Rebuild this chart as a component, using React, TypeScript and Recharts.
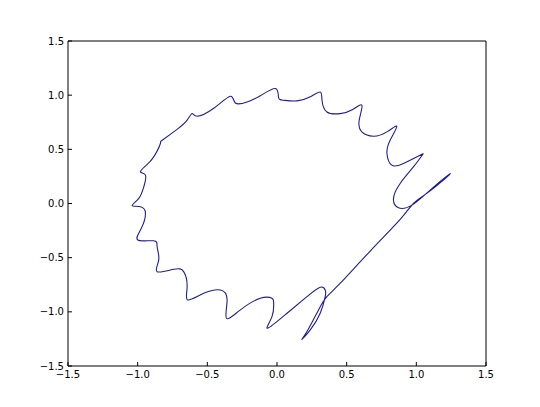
import { LineChart, Line, XAxis, YAxis } from 'recharts'

// parametric curve, points in drawing order
const xs = [
  1.051, 0.979, 0.884, 0.836, 0.872, 0.968, 1.099, 1.237, 1.194, 1.075,
  0.979, 0.884, 0.669, 0.454, 0.358, 0.298, 0.215, 0.179, 0.239, 0.31,
  0.346, 0.346, 0.31, 0.215, 0.072, -0.067, -0.036, -0.024, -0.036, -0.12,
  -0.263, -0.363, -0.358, -0.406, -0.526, -0.641, -0.645, -0.67, -0.741, -0.86,
  -0.849, -0.86, -0.885, -0.999, -0.973, -0.944, -0.98, -1.039, -0.992, -0.956,
  -0.944, -0.98, -0.937, -0.885, -0.837, -0.824, -0.715, -0.645, -0.609, -0.573,
  -0.454, -0.335, -0.299, -0.215, -0.12, -0.012, 0.011, 0.047, 0.143, 0.239,
  0.31, 0.323, 0.358, 0.454, 0.54, 0.609, 0.59, 0.609, 0.692, 0.789,
  0.86, 0.812, 0.789, 0.824, 0.908, 1.051,
]
const ys = [
  0.462, 0.338, 0.185, 0.047, -0.04, -0.015, 0.124, 0.271, 0.216, 0.093,
  0.0, -0.147, -0.439, -0.736, -0.86, -0.982, -1.182, -1.253, -1.167, -1.013,
  -0.86, -0.798, -0.773, -0.86, -1.013, -1.151, -1.044, -0.921, -0.875, -0.875,
  -0.982, -1.059, -0.89, -0.798, -0.829, -0.89, -0.768, -0.629, -0.607, -0.629,
  -0.522, -0.402, -0.344, -0.337, -0.227, -0.091, -0.03, -0.019, 0.047, 0.154,
  0.262, 0.292, 0.354, 0.43, 0.554, 0.584, 0.686, 0.769, 0.83, 0.806,
  0.879, 0.99, 0.928, 0.937, 0.994, 1.061, 0.981, 0.953, 0.947, 0.985,
  1.029, 0.953, 0.845, 0.83, 0.865, 0.907, 0.769, 0.661, 0.621, 0.661,
  0.713, 0.584, 0.462, 0.354, 0.37, 0.462,
]
const ticks = [-1.5, -1.0, -0.5, 0.0, 0.5, 1.0, 1.5]

const data = xs.map((x, i) => ({ x, y: ys[i] }))
const domain: [number, number] = [-1.5, 1.5]

const fmt = (v: number) => v.toFixed(1).replace('-', '\u2212')
const font = { fontFamily: 'DejaVu Sans', fontSize: 10, fill: '#000' }

export default function App() {
  return (
    <div style={{ position: 'absolute', left: 0, top: 0, background: '#fff' }}>
      <LineChart width={540} height={407} data={data} margin={{ top: 40, right: 53, bottom: 11, left: 8 }}>
        <XAxis dataKey="x" type="number" domain={domain} ticks={ticks} tickFormatter={fmt} tick={font}
          tickSize={-4} tickMargin={9} height={30} stroke="#000" allowDataOverflow />
        <XAxis xAxisId="top" orientation="top" dataKey="x" type="number" domain={domain} ticks={ticks}
          tick={false} tickSize={-4} height={1} stroke="#000" allowDataOverflow />
        <YAxis type="number" domain={domain} ticks={ticks} tickFormatter={fmt} tick={font}
          tickSize={-4} tickMargin={8} width={60} stroke="#000" allowDataOverflow />
        <YAxis yAxisId="right" orientation="right" type="number" domain={domain} ticks={ticks}
          tick={false} tickSize={-4} width={1} stroke="#000" allowDataOverflow />
        <Line xAxisId="top" yAxisId="right" dataKey="y" stroke="none" dot={false} activeDot={false} isAnimationActive={false} />
        <Line
          dataKey="y"
          type="natural"
          stroke="#1e1e96"
          strokeWidth={1.1}
          dot={false}
          isAnimationActive={false}
        />
      </LineChart>
    </div>
  )
}
